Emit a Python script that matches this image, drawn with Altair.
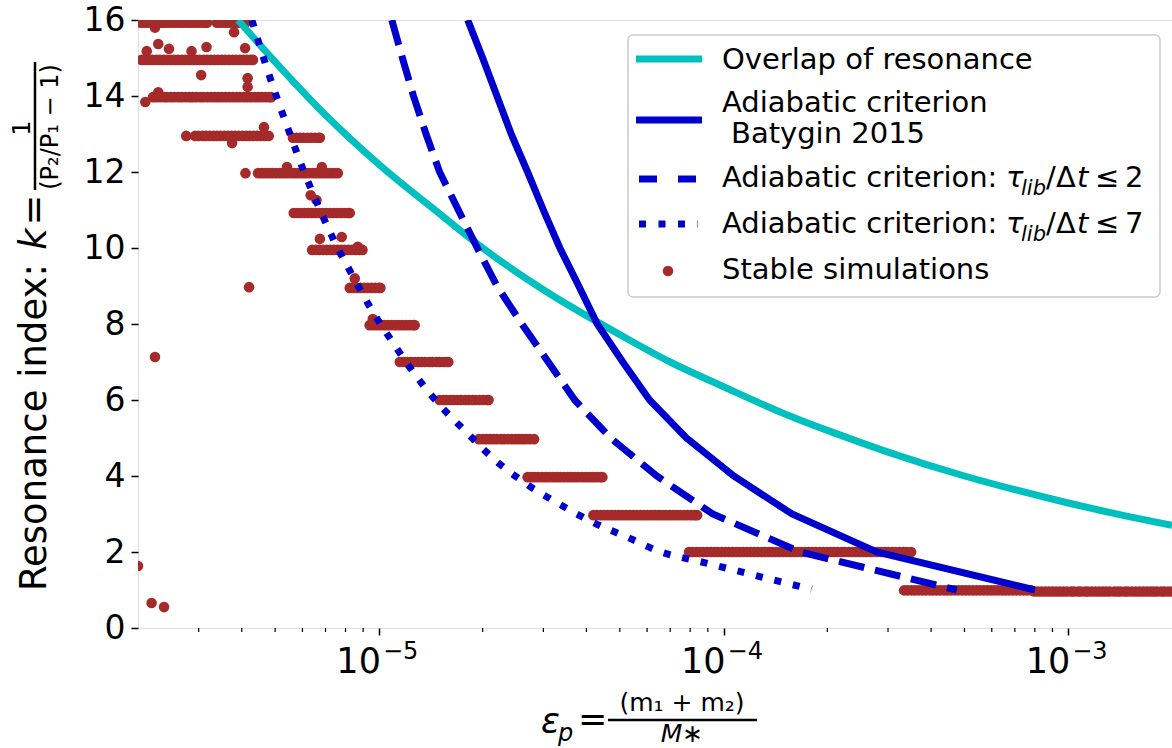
import altair as alt
import pandas as pd

# ---------------- data ----------------
# Overlap of resonance (cyan)
overlap_eps = [3.9e-6, 5e-6, 7e-6, 1e-5, 1.5e-5, 2e-5, 3e-5, 5e-5, 7e-5, 1e-4,
               1.5e-4, 2e-4, 3e-4, 5e-4, 7e-4, 1e-3, 1.5e-3, 2e-3]
overlap_k = [16.0, 14.9, 13.5, 12.2, 10.9, 10.0, 8.9, 7.72, 7.0, 6.35,
             5.64, 5.2, 4.63, 4.0, 3.64, 3.29, 2.93, 2.7]

# Adiabatic criterion, Batygin 2015 (solid)
batygin_k = [16, 15, 14, 13, 12, 11, 10, 9, 8, 7, 6, 5, 4, 3, 2, 1]
batygin_eps = [1.81e-5, 2.0e-5, 2.2e-5, 2.42e-5, 2.7e-5, 3.0e-5, 3.35e-5, 3.8e-5,
               4.3e-5, 5.1e-5, 6.1e-5, 7.8e-5, 1.07e-4, 1.58e-4, 2.78e-4, 8.0e-4]

# Adiabatic criterion tau/dt <= 2 (dashed)
dashed_k = [16, 15, 14, 13, 12, 11, 10, 9, 8, 7, 6, 5, 4, 3, 2, 1]
dashed_eps = [1.09e-5, 1.17e-5, 1.26e-5, 1.37e-5, 1.5e-5, 1.7e-5, 1.93e-5, 2.2e-5,
              2.6e-5, 3.1e-5, 3.7e-5, 4.7e-5, 6.4e-5, 9.3e-5, 1.67e-4, 4.75e-4]

# Adiabatic criterion tau/dt <= 7 (dotted)
dotted_eps = [4.28e-6, 4.67e-6, 5.06e-6, 5.52e-6, 6.05e-6, 6.69e-6, 7.44e-6, 8.40e-6,
              9.53e-6, 1.10e-5, 1.27e-5, 1.49e-5, 1.79e-5, 2.14e-5, 2.63e-5, 3.31e-5,
              4.16e-5, 5.25e-5, 6.59e-5, 8.52e-5, 1.09e-4, 1.40e-4, 1.80e-4]
dotted_k = [16.0, 14.89, 13.95, 13.0, 12.03, 11.08, 10.16, 9.26,
            8.37, 7.5, 6.68, 5.9, 5.16, 4.47, 3.84, 3.28,
            2.79, 2.39, 2.0, 1.75, 1.51, 1.26, 1.02]

# Stable simulations: bands of points (eps values) with their k level
band1a_eps = [v * 1e-4 for v in [
    3.34, 3.42, 3.51, 3.59, 3.68, 3.77, 3.86, 3.96, 4.05, 4.15, 4.25, 4.36, 4.46, 4.57, 4.69,
    4.80, 4.92, 5.04, 5.16, 5.29, 5.42, 5.55, 5.69, 5.83, 5.97, 6.11, 6.26, 6.42, 6.57, 6.73,
    6.90, 7.07, 7.24, 7.42, 7.60, 7.79]]
band1b_eps = [v * 1e-4 for v in [
    7.98, 8.17, 8.37, 8.58, 8.79, 9.00, 9.22, 9.45, 9.68, 9.92, 10.2, 10.4, 10.7, 10.9, 11.2,
    11.4, 11.7, 12.0, 12.3, 12.6, 12.9, 13.2, 13.6, 13.9, 14.2, 14.6, 14.9, 15.3, 15.7, 16.1,
    16.5, 16.9, 17.3, 17.7, 18.1, 18.6, 19.0, 19.5, 20.0]]
band2_eps = [v * 1e-4 for v in [
    0.794, 0.813, 0.833, 0.853, 0.874, 0.896, 0.918, 0.940, 0.963, 0.987, 1.011, 1.036, 1.061,
    1.087, 1.114, 1.141, 1.169, 1.198, 1.227, 1.257, 1.288, 1.320, 1.352, 1.385, 1.419, 1.454,
    1.490, 1.526, 1.564, 1.602, 1.641, 1.682, 1.723, 1.765, 1.808, 1.853, 1.898, 1.945, 1.993,
    2.04, 2.09, 2.14, 2.20, 2.25, 2.31, 2.36, 2.42, 2.48, 2.54, 2.60, 2.67, 2.73, 2.80, 2.87,
    2.94, 3.01, 3.09, 3.16, 3.24, 3.32, 3.40, 3.50]]
band3_eps = [v * 1e-5 for v in [
    4.19, 4.29, 4.40, 4.50, 4.61, 4.73, 4.84, 4.96, 5.08, 5.21, 5.34, 5.47, 5.60, 5.74, 5.88,
    6.02, 6.17, 6.32, 6.48, 6.64, 6.80, 6.97, 7.14, 7.31, 7.49, 7.68, 7.86, 8.06, 8.25, 8.38]]
band4_eps = [v * 1e-5 for v in [
    2.70, 2.77, 2.83, 2.90, 2.98, 3.05, 3.12, 3.20, 3.28, 3.36, 3.44, 3.53, 3.61, 3.70, 3.79,
    3.89, 3.98, 4.08, 4.18, 4.28, 4.39, 4.45]]
band5_eps = [v * 1e-5 for v in [
    1.95, 2.00, 2.05, 2.10, 2.15, 2.20, 2.26, 2.31, 2.37, 2.43, 2.49, 2.55, 2.61, 2.67, 2.74, 2.82]]
band6_eps = [v * 1e-5 for v in [
    1.50, 1.54, 1.57, 1.61, 1.65, 1.69, 1.73, 1.78, 1.82, 1.87, 1.91, 1.96, 2.01, 2.06, 2.08]]
band7_eps = [v * 1e-5 for v in [
    1.15, 1.18, 1.21, 1.24, 1.27, 1.30, 1.33, 1.36, 1.40, 1.43, 1.47, 1.50, 1.54, 1.57, 1.59]]
band8_eps = [v * 1e-5 for v in [
    0.940, 0.963, 0.987, 1.011, 1.036, 1.061, 1.087, 1.114, 1.141, 1.169, 1.198, 1.227, 1.257, 1.27]]
band9_eps = [v * 1e-6 for v in [8.23, 8.43, 8.64, 8.85, 9.07, 9.29, 9.52, 9.75, 9.99, 10.1]]
band10_eps = [v * 1e-6 for v in [
    6.40, 6.56, 6.72, 6.88, 7.05, 7.22, 7.40, 7.58, 7.77, 7.96, 8.15, 8.35, 8.56, 8.77, 8.96]]
band11_eps = [v * 1e-6 for v in [
    5.66, 5.80, 5.94, 6.09, 6.24, 6.39, 6.55, 6.71, 6.87, 7.04, 7.21, 7.39, 7.57, 7.76, 7.95,
    8.14, 8.23]]
band12_eps = [v * 1e-6 for v in [
    4.10, 4.46, 4.57, 4.68, 4.80, 4.91, 5.03, 5.16, 5.28, 5.41, 5.55, 5.68, 5.82, 5.97, 6.11,
    6.26, 6.42, 6.58, 6.74, 6.90, 7.07, 7.25, 7.42, 7.60]]
band13a_eps = [v * 1e-6 for v in [
    2.76, 2.93, 3.00, 3.08, 3.15, 3.23, 3.31, 3.39, 3.47, 3.56, 3.65, 3.74, 3.83, 3.92, 4.02,
    4.12, 4.22, 4.32, 4.43, 4.54, 4.65, 4.79]]
band13b_eps = [v * 1e-6 for v in [5.63, 5.77, 5.91, 6.05, 6.20, 6.35, 6.51, 6.67, 6.74]]
band14_eps = [v * 1e-6 for v in [
    2.21, 2.26, 2.32, 2.38, 2.43, 2.49, 2.55, 2.62, 2.68, 2.75, 2.82, 2.88, 2.95, 3.03, 3.10,
    3.18, 3.26, 3.34, 3.42, 3.50, 3.59, 3.68, 3.77, 3.86, 3.95, 4.05, 4.15, 4.25, 4.36, 4.46,
    4.57, 4.69, 4.80, 4.87]]
band15_eps = [v * 1e-6 for v in [
    2.05, 2.10, 2.15, 2.20, 2.26, 2.31, 2.37, 2.43, 2.49, 2.55, 2.61, 2.68, 2.74, 2.81, 2.88,
    2.95, 3.02, 3.10, 3.17, 3.25, 3.33, 3.41, 3.50, 3.58, 3.67, 3.76, 3.85, 3.95, 4.04, 4.14,
    4.24, 4.31]]
band16_eps = [v * 1e-6 for v in [
    2.03, 2.08, 2.13, 2.18, 2.24, 2.29, 2.35, 2.40, 2.46, 2.52, 2.58, 2.65, 2.71, 2.78, 2.85,
    2.92, 2.99, 3.06, 3.14, 3.17, 3.39, 3.47, 3.56, 3.65, 3.74, 3.83, 3.92, 4.02, 4.10]]
bands = [(band1a_eps, 0.99), (band1b_eps, 0.96), (band2_eps, 2.0), (band3_eps, 2.97),
         (band4_eps, 3.97), (band5_eps, 4.97), (band6_eps, 6.0), (band7_eps, 7.0),
         (band8_eps, 7.97), (band9_eps, 8.95), (band10_eps, 9.95), (band11_eps, 10.92),
         (band12_eps, 11.97), (band13a_eps, 12.95), (band13b_eps, 12.9), (band14_eps, 13.97),
         (band15_eps, 14.95), (band16_eps, 15.93)]
extra_eps = [2.24e-6, 3.80e-6, 2.12e-6, 2.29e-6, 2.46e-6, 2.86e-6, 3.16e-6, 4.09e-6,
             2.10e-6, 2.29e-6, 3.05e-6, 4.16e-6, 4.16e-6, 3.75e-6, 4.64e-6, 5.41e-6, 6.83e-6,
             6.34e-6, 6.59e-6, 6.74e-6, 7.80e-6, 8.68e-6, 8.51e-6, 9.6e-6,
             4.2e-6, 2.24e-6, 2.0e-6, 2.19e-6, 2.38e-6]
extra_k = [15.8, 15.68, 15.18, 15.37, 15.24, 15.18, 15.29, 15.26,
           13.84, 14.1, 14.55, 14.47, 14.24, 12.76, 13.18, 12.13, 12.13,
           11.39, 11.26, 10.24, 10.29, 10.03, 9.2, 8.13,
           8.97, 7.13, 1.63, 0.66, 0.55]

x_major = [1e-5, 1e-4, 1e-3]
x_major_sup = ["\u22125", "\u22124", "\u22123"]
x_minor = [3e-6, 4e-6, 5e-6, 6e-6, 7e-6, 8e-6, 9e-6,
           2e-5, 3e-5, 4e-5, 5e-5, 6e-5, 7e-5, 8e-5, 9e-5,
           2e-4, 3e-4, 4e-4, 5e-4, 6e-4, 7e-4, 8e-4, 9e-4]
y_ticks = [0, 2, 4, 6, 8, 10, 12, 14, 16]

# ---------------- build ----------------
FONT = "DejaVu Sans"
W, H = 1034, 608
OX, OY = 138, 20
CYAN, BLUE, BROWN = "#00bfbf", "#0000cd", "#a52a2a"
PT_SIZE = 112

pts = []
for eps_list, kv in bands:
    pts += [{"eps": e, "k": kv} for e in eps_list]
pts += [{"eps": e, "k": kv} for e, kv in zip(extra_eps, extra_k)]
pts_df = pd.DataFrame(pts)

xs = alt.Scale(type="log", domain=[2e-6, 2e-3], nice=False)
ys = alt.Scale(domain=[0, 16], nice=False, zero=False)
x_axis = alt.Axis(values=x_major, labels=False, title=None, tickSize=7, tickWidth=1.5,
                  tickColor="black", domain=False, grid=False)
y_axis = alt.Axis(values=y_ticks, title=None, tickSize=7, tickWidth=1.5, tickColor="black",
                  labelFontSize=33, labelFont=FONT, labelColor="black", labelPadding=6,
                  domain=False, grid=False, format="d")
X = alt.X("eps:Q", scale=xs, axis=x_axis)
Y = alt.Y("k:Q", scale=ys, axis=y_axis)

one = pd.DataFrame({"a": [0]})


def txt(s, x, y, size, style="normal", align="left", angle=0, baseline="alphabetic"):
    return alt.Chart(one).mark_text(
        text=s, fontSize=size, fontStyle=style, align=align, baseline=baseline,
        angle=angle, font=FONT, color="black"
    ).encode(x=alt.value(x - OX), y=alt.value(y - OY))


def hline(x1, x2, y, color, dash=None, width=7):
    kw = dict(color=color, strokeWidth=width, strokeCap="butt")
    if dash:
        kw["strokeDash"] = dash
    return alt.Chart(one).mark_rule(**kw).encode(
        x=alt.value(x1 - OX), x2=alt.value(x2 - OX), y=alt.value(y - OY))


def line(eps, k, color, dash=None, interp="linear"):
    kw = dict(color=color, strokeWidth=7, clip=True, strokeCap="butt", interpolate=interp)
    if dash:
        kw["strokeDash"] = dash
    return alt.Chart(pd.DataFrame({"eps": eps, "k": k})).mark_line(**kw).encode(x=X, y=Y)


points = alt.Chart(pts_df).mark_point(shape="circle", filled=True, size=PT_SIZE, color=BROWN,
                                      opacity=1, strokeWidth=0, clip=True).encode(x=X, y=Y)
cyan = line(overlap_eps, overlap_k, CYAN, interp="monotone")
solid = line(batygin_eps, batygin_k, BLUE)
dashed = line(dashed_eps, dashed_k, BLUE, [26, 11])
dotted = line(dotted_eps, dotted_k, BLUE, [7, 12], interp="monotone")

minor = alt.Chart(pd.DataFrame({"eps": x_minor})).mark_rule(color="black", strokeWidth=1.2).encode(
    x=X, y=alt.value(H), y2=alt.value(H + 4))
tick_df = pd.DataFrame({"eps": x_major, "sup": x_major_sup})
xlab10 = alt.Chart(tick_df).mark_text(text="10", fontSize=35, font=FONT, align="right",
                                      baseline="alphabetic", dx=2, color="black").encode(
    x=X, y=alt.value(673 - OY))
xlabsup = alt.Chart(tick_df).mark_text(fontSize=24, font=FONT, align="left",
                                       baseline="alphabetic", dx=4, color="black").encode(
    x=X, y=alt.value(659 - OY), text="sup:N")

# axis titles
titles = [
    txt("\u03b5", 541, 733, 35, style="italic"),
    txt("p", 558, 741, 24, style="italic"),
    txt("=", 578, 731, 35),
    alt.Chart(one).mark_rule(color="black", strokeWidth=2.5).encode(
        x=alt.value(608 - OX), x2=alt.value(757 - OX), y=alt.value(720 - OY)),
    txt("(m\u2081 + m\u2082)", 682, 711, 25, align="center"),
    txt("M\u2217", 682, 742, 25, style="italic", align="center"),
    txt("Resonance index: ", 46, 591, 37, angle=270),
    txt("k", 46, 239, 37, style="italic", angle=270, align="center"),
    txt("=", 46, 210, 37, angle=270, align="center"),
    alt.Chart(one).mark_rule(color="black", strokeWidth=2.5).encode(
        x=alt.value(35 - OX), y=alt.value(62 - OY), y2=alt.value(190 - OY)),
    txt("1", 30, 128, 24, angle=270, align="center"),
    txt("(P\u2082/P\u2081 \u2212 1)", 58, 127, 24, angle=270, align="center"),
]

# legend
legend_box = alt.Chart(one).mark_rect(cornerRadius=5, fill="white", fillOpacity=0.8,
                                      stroke="#cccccc", strokeWidth=1.5).encode(
    x=alt.value(628 - OX), x2=alt.value(1160 - OX), y=alt.value(35 - OY), y2=alt.value(297 - OY))
legend = [
    legend_box,
    hline(636, 702, 59, CYAN),
    hline(636, 702, 120, BLUE),
    hline(639, 697, 179, BLUE, [18, 21]),
    hline(639, 698, 224, BLUE, [7, 12.5]),
    alt.Chart(one).mark_point(shape="circle", filled=True, size=PT_SIZE, color=BROWN, opacity=1,
                              strokeWidth=0).encode(
        x=alt.value(668 - OX), y=alt.value(271 - OY)),
    txt("Overlap of resonance", 722, 69, 29),
    txt("Adiabatic criterion", 722, 112, 29),
    txt("Batygin 2015", 731, 143, 29),
    txt("Stable simulations", 722, 279, 29),
]
for base, last in [(187, "2"), (233, "7")]:
    legend += [
        txt("Adiabatic criterion:", 722, base, 29),
        txt("\u03c4", 1006, base, 29, style="italic"),
        txt("lib", 1021, base + 8, 21, style="italic"),
        txt("/", 1046, base, 29),
        txt("\u0394", 1056, base, 29),
        txt("t", 1077, base, 29, style="italic"),
        txt("\u2264", 1095, base, 29),
        txt(last, 1125, base, 29),
    ]

chart = alt.layer(points, cyan, solid, dashed, dotted, minor, xlab10, xlabsup,
                  *titles, *legend).properties(
    width=W, height=H,
    autosize=alt.AutoSizeParams(type="none"),
    padding={"left": OX, "top": OY, "right": 0, "bottom": 748 - OY - H},
).configure_view(stroke="black", strokeWidth=1.5).configure(font=FONT)

chart.save("out.html", embed_options={"renderer": "svg", "actions": False})
